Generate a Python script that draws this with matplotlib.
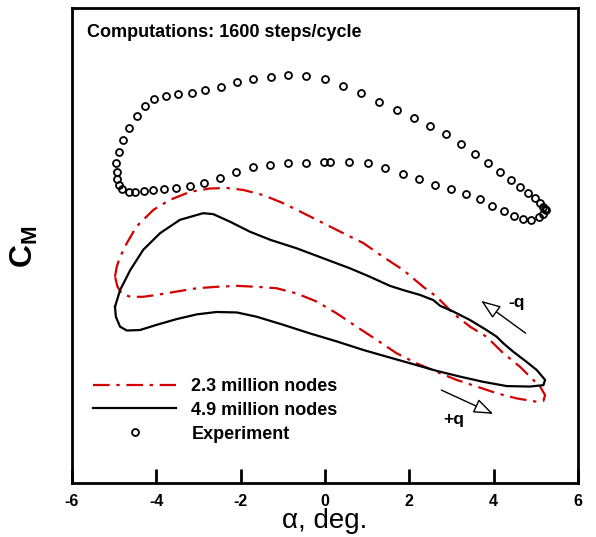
import matplotlib
matplotlib.use("Agg")
import matplotlib.pyplot as plt

plt.rcParams['font.family'] = ['Liberation Sans', 'DejaVu Sans']
plt.rcParams['axes.unicode_minus'] = False
plt.rcParams['mathtext.fontset'] = 'custom'
plt.rcParams['mathtext.bf'] = 'Liberation Sans:bold'
plt.rcParams['mathtext.rm'] = 'Liberation Sans'

# experiment (open circles)
exp_alpha = [-4.94, -4.96, -4.88, -4.78, -4.65, -4.47, -4.27, -4.05, -3.78, -3.49, -3.16, -2.84,
             -2.46, -2.08, -1.70, -1.29, -0.87, -0.44, -0.01, 0.43, 0.86, 1.29, 1.71, 2.11,
             2.48, 2.87, 3.23, 3.55, 3.86, 4.15, 4.41, 4.62, 4.81, 4.97, 5.10, 5.18, 5.22,
             5.24, 5.18, 5.08, 4.89, 4.69, 4.48, 4.24, 3.97, 3.67, 3.34, 3.00, 2.62, 2.23,
             1.84, 1.42, 1.01, 0.58, 0.13, -0.02, -0.44, -0.87, -1.30, -1.71, -2.12, -2.50,
             -2.86, -3.20, -3.53, -3.81, -4.07, -4.29, -4.50, -4.66, -4.81, -4.89, -4.94]
exp_cm = [0.0055, 0.0074, 0.0097, 0.0122, 0.0148, 0.0173, 0.0194, 0.0208, 0.0215, 0.0218, 0.0222, 0.0227,
          0.0234, 0.0244, 0.0251, 0.0255, 0.0258, 0.0256, 0.0250, 0.0236, 0.0220, 0.0202, 0.0185, 0.0168,
          0.0152, 0.0134, 0.0114, 0.0093, 0.0073, 0.0054, 0.0038, 0.0024, 0.0011, 0.0000, -0.0010, -0.0018, -0.0024,
          -0.0025, -0.0034, -0.0041, -0.0046, -0.0044, -0.0038, -0.0028, -0.0016, -0.0003, 0.0009, 0.0019, 0.0028, 0.0039,
          0.0051, 0.0064, 0.0073, 0.0076, 0.0076, 0.0076, 0.0074, 0.0073, 0.0070, 0.0065, 0.0054, 0.0043,
          0.0032, 0.0025, 0.0021, 0.0018, 0.0016, 0.0014, 0.0013, 0.0013, 0.0018, 0.0027, 0.0040]

# 2.3 million nodes (red dash-dot)
red_alpha = [-4.98, -4.94, -4.86, -4.70, -4.47, -4.07, -3.68, -3.20, -2.73, -2.33, -1.94, -1.46,
             -0.99, -0.51, -0.04, 0.43, 0.91, 1.38, 1.86, 2.33, 2.65, 3.04, 3.44, 3.83, 4.23,
             4.62, 4.86, 5.10, 5.22, 5.18, 5.02, 4.55, 4.07, 3.60, 3.12, 2.65, 2.17, 1.70,
             1.23, 0.75, 0.28, -0.20, -0.67, -1.15, -1.62, -2.09, -2.57, -3.04, -3.52, -3.99,
             -4.31, -4.62, -4.82, -4.92, -4.98]
red_cm = [-0.0166, -0.0145, -0.0124, -0.0095, -0.0060, -0.0025, -0.0004, 0.0013, 0.0020, 0.0021, 0.0017, 0.0006,
          -0.0011, -0.0032, -0.0053, -0.0074, -0.0095, -0.0124, -0.0152, -0.0187, -0.0208, -0.0243, -0.0271, -0.0292, -0.0327,
          -0.0355, -0.0376, -0.0397, -0.0415, -0.0427, -0.0429, -0.0422, -0.0411, -0.0397, -0.0383, -0.0366, -0.0348, -0.0327,
          -0.0299, -0.0271, -0.0243, -0.0218, -0.0201, -0.0190, -0.0187, -0.0185, -0.0187, -0.0190, -0.0197, -0.0204,
          -0.0208, -0.0208, -0.0201, -0.0187, -0.0166]

# 4.9 million nodes (black solid)
blk_alpha = [-4.98, -4.86, -4.62, -4.31, -3.91, -3.44, -2.89, -2.65, -2.25, -1.78, -1.30, -0.67,
             -0.04, 0.59, 1.07, 1.54, 1.86, 2.25, 2.57, 2.73, 3.04, 3.44, 3.83, 4.07, 4.23,
             4.47, 4.78, 5.02, 5.22, 5.18, 4.86, 4.31, 3.75, 3.20, 2.65, 2.02, 1.46, 0.91,
             0.28, -0.36, -0.99, -1.62, -2.09, -2.57, -3.04, -3.52, -3.99, -4.39, -4.70, -4.86,
             -4.96, -4.98]
blk_cm = [-0.0229, -0.0194, -0.0152, -0.0109, -0.0074, -0.0046, -0.0032, -0.0034, -0.0050, -0.0071, -0.0088, -0.0106,
          -0.0127, -0.0148, -0.0166, -0.0185, -0.0194, -0.0204, -0.0215, -0.0227, -0.0239, -0.0257, -0.0278, -0.0292, -0.0306,
          -0.0324, -0.0345, -0.0362, -0.0383, -0.0394, -0.0397, -0.0396, -0.0387, -0.0376, -0.0364, -0.0348, -0.0334, -0.0320,
          -0.0302, -0.0285, -0.0267, -0.0250, -0.0241, -0.0240, -0.0245, -0.0255, -0.0267, -0.0278, -0.0279, -0.0271,
          -0.0250, -0.0229]

fig = plt.figure(figsize=(5.96, 5.37), dpi=100)
ax = fig.add_axes([0.1208, 0.1006, 0.8490, 0.8845])

ax.plot(red_alpha, red_cm, color='#d40000', lw=1.6, dashes=(7.5, 3, 1.5, 3), label='2.3 million nodes')
ax.plot(blk_alpha, blk_cm, color='black', lw=1.6, label='4.9 million nodes')
ax.plot(exp_alpha, exp_cm, 'o', mfc='none', mec='black', ms=5, mew=1.3, label='Experiment')

# pitch direction arrows
arr = dict(arrowstyle='-|>,head_length=1.2,head_width=0.45', fc='white', ec='black', lw=1)
ax.annotate('', xy=(3.65, -0.0213), xytext=(4.81, -0.0288), arrowprops=arr)
ax.annotate('', xy=(4.05, -0.0457), xytext=(2.70, -0.0402), arrowprops=arr)
ax.text(4.55, -0.0221, '-q', fontsize=12.5, fontweight='bold', ha='center', va='center')
ax.text(3.06, -0.0467, '+q', fontsize=12.5, fontweight='bold', ha='center', va='center')

ax.text(0.0296, 0.939, 'Computations: 1600 steps/cycle', transform=ax.transAxes,
        fontsize=13, fontweight='bold', ha='left', va='baseline')

ax.set_xlim(-6, 6)
ax.set_ylim(-0.06, 0.04)
ax.set_xticks([-6, -4, -2, 0, 2, 4, 6])
ax.set_yticks([])
ax.tick_params(axis='x', direction='in', length=10, width=2, labelsize=11.5, pad=8)
for lbl in ax.get_xticklabels():
    lbl.set_fontweight('bold')
for s in ax.spines.values():
    s.set_linewidth(2)

ax.set_xlabel('α, deg.', fontsize=20, labelpad=-1)
fig.text(0.040, 0.540, r'$\mathbf{C}_\mathbf{M}$', rotation=90, fontsize=23,
         ha='center', va='center')

leg = ax.legend(loc='lower left', bbox_to_anchor=(0.0415, 0.085), frameon=False, fontsize=13,
                handlelength=4.6, handletextpad=0.85, labelspacing=0.38,
                borderpad=0, borderaxespad=0)
for t in leg.get_texts():
    t.set_fontweight('bold')

fig.savefig('out.png', dpi=100)
